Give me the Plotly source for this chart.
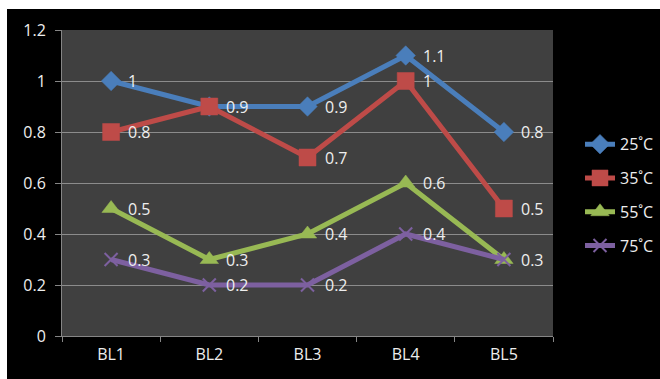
import plotly.graph_objects as go

# Sample positions and measured values per temperature
categories = ["BL1", "BL2", "BL3", "BL4", "BL5"]
series_names = ["25˚C", "35˚C", "55˚C", "75˚C"]
vals_25 = [1, 0.9, 0.9, 1.1, 0.8]
vals_35 = [0.8, 0.9, 0.7, 1, 0.5]
vals_55 = [0.5, 0.3, 0.4, 0.6, 0.3]
vals_75 = [0.3, 0.2, 0.2, 0.4, 0.3]
y_ticks = [0, 0.2, 0.4, 0.6, 0.8, 1, 1.2]
y_tick_text = ["0", "0.2", "0.4", "0.6", "0.8", "1", "1.2"]

colors = ["#4A7EBB", "#BE4B48", "#98B954", "#7D60A0"]
symbols = ["diamond", "square", "triangle-up", "x-thin"]
sizes = [15, 17, 16, 13]
all_vals = [vals_25, vals_35, vals_55, vals_75]

FONT = "Open Sans"
TXT = "#EEEEEE"
FS = 16

fig = go.Figure()
for i, (name, vals) in enumerate(zip(series_names, all_vals)):
    marker = dict(symbol=symbols[i], size=sizes[i], color=colors[i],
                  line=dict(color=colors[i], width=2 if symbols[i] == "x-thin" else 0.5))
    fig.add_trace(go.Scatter(
        x=categories, y=vals, name=name, mode="lines+markers",
        line=dict(color=colors[i], width=5),
        marker=marker, legendgroup=name, cliponaxis=False,
    ))

# Value labels to the right of each point; a point shared by two series
# with the same value gets a single label
placed = set()
for vals in all_vals:
    for cat, v in zip(categories, vals):
        if (cat, v) in placed:
            continue
        placed.add((cat, v))
        fig.add_annotation(x=cat, y=v, text=str(v), showarrow=False,
                           xanchor="left", yanchor="middle", xshift=15,
                           font=dict(color=TXT, size=FS, family=FONT))

# Paper coordinates of the surrounding black frame (plot area spans 62..553 x 30..336 px)
pw, ph = 491, 306
fig.add_shape(type="rect", xref="paper", yref="paper",
              x0=(7 - 62) / pw, x1=(660 - 62) / pw,
              y0=(336 - 379) / ph, y1=(336 - 9) / ph,
              fillcolor="black", line=dict(width=0), layer="below")
fig.add_shape(type="rect", xref="paper", yref="paper",
              x0=0, x1=1, y0=0, y1=1,
              fillcolor="#404040", line=dict(width=0), layer="below")

fig.update_layout(
    width=660, height=379,
    margin=dict(l=62, r=107, t=30, b=43, autoexpand=False),
    paper_bgcolor="white", plot_bgcolor="rgba(0,0,0,0)",
    font=dict(family=FONT, color=TXT, size=FS),
    showlegend=True,
    legend=dict(x=(659 - 62) / pw, y=0.46, xanchor="right", yanchor="middle",
                bgcolor="rgba(0,0,0,0)", font=dict(size=FS, color=TXT, family=FONT),
                tracegroupgap=10, itemwidth=30),
    xaxis=dict(type="category", range=[-0.5, 4.5], showgrid=False,
               showline=True, linecolor="#868686", linewidth=1,
               ticks="outside", tickson="boundaries", ticklen=5, tickcolor="#868686",
               ticklabelstandoff=4,
               tickfont=dict(color=TXT, size=FS, family=FONT), zeroline=False),
    yaxis=dict(range=[0, 1.2], tickvals=y_ticks, ticktext=y_tick_text,
               showgrid=True, gridcolor="#8C8C8C", gridwidth=1,
               showline=True, linecolor="#868686", linewidth=1,
               ticks="outside", ticklen=6, tickcolor="#868686",
               ticklabelstandoff=6,
               tickfont=dict(color=TXT, size=FS, family=FONT), zeroline=False),
)

fig.write_html("out.html")
